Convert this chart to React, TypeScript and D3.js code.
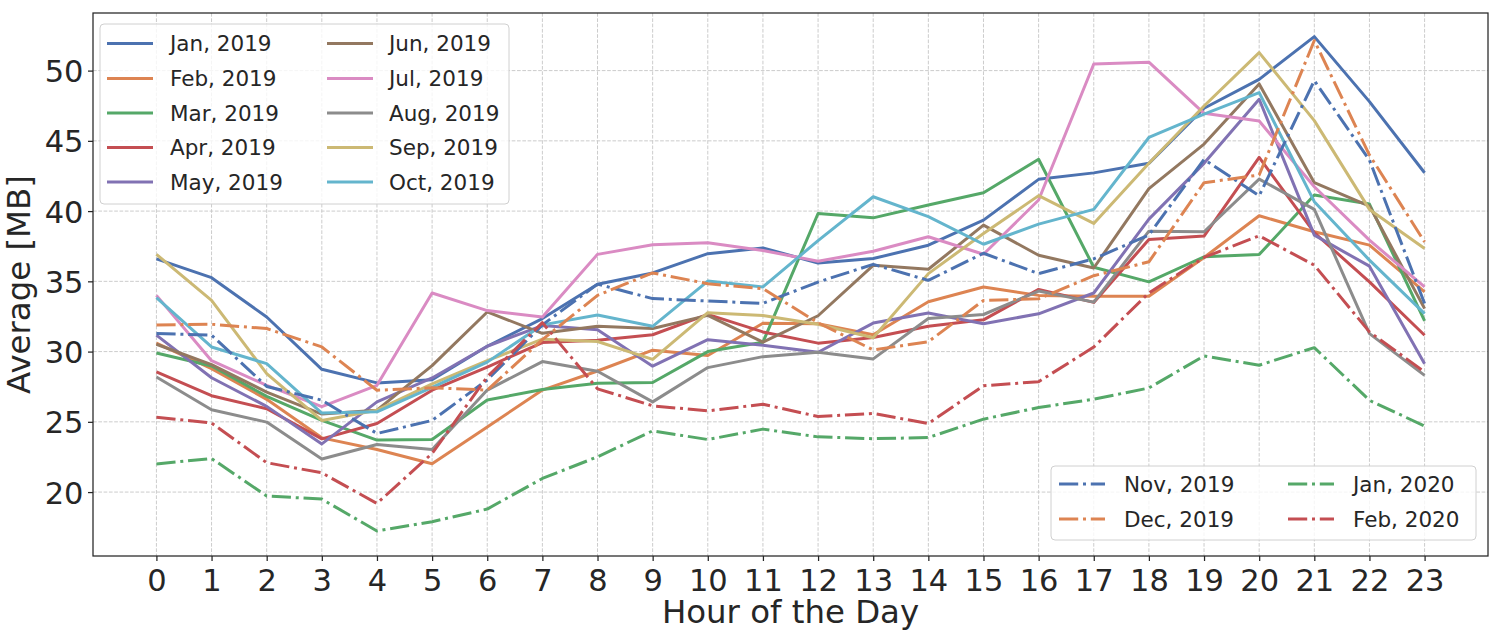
import * as d3 from 'd3';
import { useEffect, useRef } from 'react';

// hours on the x axis
const hours = [0, 1, 2, 3, 4, 5, 6, 7, 8, 9, 10, 11, 12, 13, 14, 15, 16, 17, 18, 19, 20, 21, 22, 23];
const yTicks = [20, 25, 30, 35, 40, 45, 50];

const labels = [
  'Jan, 2019', 'Feb, 2019', 'Mar, 2019', 'Apr, 2019', 'May, 2019', 'Jun, 2019', 'Jul, 2019',
  'Aug, 2019', 'Sep, 2019', 'Oct, 2019', 'Nov, 2019', 'Dec, 2019', 'Jan, 2020', 'Feb, 2020',
];

const jan2019 = [36.6, 35.26, 32.46, 28.74, 27.77, 28.0, 30.38, 32.35, 34.79, 35.6, 36.97, 37.37, 36.31, 36.62, 37.57, 39.36, 42.26, 42.72, 43.4, 47.32, 49.38, 52.42, 47.79, 42.73];
const feb2019 = [30.6, 28.79, 26.6, 23.86, 23.03, 22.02, 24.64, 27.26, 28.62, 30.1, 29.72, 32.02, 31.98, 31.2, 33.55, 34.6, 34.0, 33.94, 33.94, 36.7, 39.67, 38.53, 37.58, 34.25];
const mar2019 = [29.9, 28.98, 26.81, 25.1, 23.7, 23.74, 26.55, 27.3, 27.74, 27.8, 30.0, 30.67, 39.83, 39.52, 40.43, 41.31, 43.69, 36.0, 34.96, 36.75, 36.91, 41.14, 40.5, 32.19];
const apr2019 = [28.55, 26.86, 25.93, 23.79, 24.88, 27.25, 28.9, 30.64, 30.8, 31.2, 32.65, 31.4, 30.6, 31.0, 31.8, 32.26, 34.43, 33.5, 37.98, 38.22, 43.82, 38.46, 34.96, 31.16];
const may2019 = [31.17, 28.14, 26.1, 23.43, 26.42, 28.12, 30.38, 31.85, 31.55, 28.96, 30.85, 30.45, 29.95, 32.03, 32.75, 31.98, 32.69, 34.17, 39.43, 43.4, 47.96, 38.29, 36.08, 29.14];
const jun2019 = [30.52, 29.07, 27.12, 25.55, 25.83, 29.0, 32.82, 31.3, 31.8, 31.64, 32.58, 30.67, 32.55, 36.14, 35.86, 39.0, 36.86, 35.95, 41.6, 44.77, 49.05, 42.02, 40.36, 33.06];
const jul2019 = [34.0, 29.35, 27.6, 26.08, 27.6, 34.17, 32.92, 32.46, 36.92, 37.6, 37.75, 37.2, 36.43, 37.14, 38.17, 36.93, 40.79, 50.47, 50.6, 46.96, 46.41, 41.73, 37.93, 34.6];
const aug2019 = [28.19, 25.86, 24.98, 22.35, 23.39, 23.03, 27.26, 29.29, 28.6, 26.42, 28.86, 29.64, 29.95, 29.48, 32.35, 32.64, 34.31, 33.52, 38.57, 38.53, 42.28, 40.12, 31.28, 28.31];
const sep2019 = [36.92, 33.65, 28.43, 25.1, 25.83, 27.7, 29.35, 30.88, 30.72, 29.45, 32.77, 32.57, 31.95, 30.98, 35.55, 38.4, 41.1, 39.12, 43.4, 47.48, 51.28, 46.44, 40.12, 37.34];
const oct2019 = [33.84, 30.33, 29.14, 25.62, 25.71, 27.45, 29.25, 31.9, 32.6, 31.8, 35.02, 34.6, 37.9, 41.02, 39.6, 37.64, 39.07, 40.12, 45.24, 46.9, 48.43, 40.67, 36.51, 32.7];
const nov2019 = [31.29, 31.17, 27.52, 26.54, 24.17, 25.1, 27.98, 31.9, 34.8, 33.77, 33.6, 33.43, 34.95, 36.21, 35.07, 37.0, 35.55, 36.6, 38.3, 43.68, 41.09, 49.29, 43.63, 33.42];
const dec2019 = [31.9, 31.94, 31.64, 30.33, 27.25, 27.42, 27.26, 30.85, 34.0, 35.6, 34.83, 34.48, 32.05, 30.12, 30.7, 33.64, 33.76, 35.4, 36.39, 42.02, 42.57, 52.14, 43.99, 37.81];
const jan2020 = [22.0, 22.39, 19.72, 19.5, 17.23, 17.89, 18.79, 20.97, 22.51, 24.36, 23.74, 24.48, 23.93, 23.8, 23.88, 25.19, 26.02, 26.61, 27.41, 29.69, 29.03, 30.28, 26.53, 24.7];
const feb2020 = [25.33, 24.92, 22.09, 21.37, 19.19, 22.75, 28.2, 32.06, 27.35, 26.14, 25.78, 26.25, 25.38, 25.6, 24.88, 27.57, 27.86, 30.32, 34.18, 36.7, 38.24, 36.15, 31.4, 28.55];

const allSeries = [
  jan2019, feb2019, mar2019, apr2019, may2019, jun2019, jul2019,
  aug2019, sep2019, oct2019, nov2019, dec2019, jan2020, feb2020,
];

// seaborn "deep" palette
const palette = ['#4C72B0', '#DD8452', '#55A868', '#C44E52', '#8172B3', '#937860', '#DA8BC3', '#8C8C8C', '#CCB974', '#64B5CD'];

export default function App() {
  const svgRef = useRef<SVGSVGElement>(null);
  const width = 1500;
  const height = 639;

  useEffect(() => {
    document.body.style.margin = '0';
    const svg = d3.select(svgRef.current);
    svg.selectAll('*').remove();

    const margin = { top: 13, right: 12, bottom: 83, left: 93 };
    const textColor = '#262626';
    const font = 'DejaVu Sans';
    const lw = 3;
    const dashDot = [6.4 * lw, 1.6 * lw, 1 * lw, 1.6 * lw].join(',');

    const x = d3.scaleLinear().domain([-1.15, 24.15]).range([margin.left, width - margin.right]);
    const y = d3.scaleLinear().domain([15.45, 54.1]).range([height - margin.bottom, margin.top]);

    const colorOf = (i: number) => palette[i < 10 ? i : [0, 1, 2, 3][i - 10]];
    const isDashed = (i: number) => i >= 10;

    // background
    svg.append('rect').attr('width', width).attr('height', height).attr('fill', 'white');

    // grid
    const grid = svg.append('g').attr('stroke', '#cccccc').attr('stroke-width', 1).attr('stroke-dasharray', '3.7,1.6');
    hours.forEach((h) => {
      grid.append('line').attr('x1', x(h)).attr('x2', x(h)).attr('y1', margin.top).attr('y2', height - margin.bottom);
    });
    yTicks.forEach((t) => {
      grid.append('line').attr('x1', margin.left).attr('x2', width - margin.right).attr('y1', y(t)).attr('y2', y(t));
    });

    // lines
    const line = d3
      .line<number>()
      .x((_, i) => x(hours[i]))
      .y((d) => y(d));

    allSeries.forEach((values, i) => {
      svg
        .append('path')
        .datum(values)
        .attr('d', line)
        .attr('fill', 'none')
        .attr('stroke', colorOf(i))
        .attr('stroke-width', lw)
        .attr('stroke-linejoin', 'round')
        .attr('stroke-dasharray', isDashed(i) ? dashDot : null);
    });

    // axes
    const xAxis = d3.axisBottom(x).tickValues(hours).tickSize(5).tickPadding(8).tickFormat((d) => `${d}`);
    const yAxis = d3.axisLeft(y).tickValues(yTicks).tickSize(5).tickPadding(4.5).tickFormat((d) => `${d}`);

    const gx = svg.append('g').attr('transform', `translate(0,${height - margin.bottom})`).call(xAxis);
    const gy = svg.append('g').attr('transform', `translate(${margin.left},0)`).call(yAxis);
    [gx, gy].forEach((g) => {
      g.select('.domain').remove();
      g.selectAll('.tick line').attr('stroke', textColor).attr('stroke-width', 1.25);
      g.selectAll('.tick text').attr('fill', textColor).style('font-family', font).style('font-size', '30.5px');
    });
    gx.selectAll('.tick text').attr('dy', '0.71em');
    gy.selectAll('.tick text').attr('dy', '0.36em');

    // frame
    svg
      .append('rect')
      .attr('x', margin.left)
      .attr('y', margin.top)
      .attr('width', width - margin.left - margin.right)
      .attr('height', height - margin.top - margin.bottom)
      .attr('fill', 'none')
      .attr('stroke', textColor)
      .attr('stroke-width', 1.25);

    // axis labels
    svg
      .append('text')
      .attr('x', (margin.left + width - margin.right) / 2)
      .attr('y', 623)
      .attr('text-anchor', 'middle')
      .attr('fill', textColor)
      .style('font-family', font)
      .style('font-size', '32.4px')
      .text('Hour of the Day');

    svg
      .append('text')
      .attr('transform', `translate(30,${(margin.top + height - margin.bottom) / 2}) rotate(-90)`)
      .attr('text-anchor', 'middle')
      .attr('fill', textColor)
      .style('font-family', font)
      .style('font-size', '32.4px')
      .text('Average [MB]');

    // legends
    const drawLegend = (
      items: number[],
      box: { x: number; y: number; w: number; h: number },
      rowY: number[],
      cols: { hx: number; tx: number }[],
      perCol: number,
    ) => {
      const g = svg.append('g');
      g.append('rect')
        .attr('x', box.x)
        .attr('y', box.y)
        .attr('width', box.w)
        .attr('height', box.h)
        .attr('rx', 4)
        .attr('fill', 'white')
        .attr('fill-opacity', 0.8)
        .attr('stroke', '#d0d0d0')
        .attr('stroke-width', 1);
      items.forEach((idx, k) => {
        const col = cols[Math.floor(k / perCol)];
        const ry = rowY[k % perCol];
        g.append('line')
          .attr('x1', col.hx)
          .attr('x2', col.hx + 46)
          .attr('y1', ry)
          .attr('y2', ry)
          .attr('stroke', colorOf(idx))
          .attr('stroke-width', lw)
          .attr('stroke-dasharray', isDashed(idx) ? dashDot : null);
        g.append('text')
          .attr('x', col.tx)
          .attr('y', ry)
          .attr('dy', '0.36em')
          .attr('fill', textColor)
          .style('font-family', font)
          .style('font-size', '21.5px')
          .text(labels[idx]);
      });
    };

    drawLegend(
      [0, 1, 2, 3, 4, 5, 6, 7, 8, 9],
      { x: 100, y: 24, w: 409, h: 180 },
      [43.5, 78.5, 113, 147.5, 182],
      [
        { hx: 107, tx: 170 },
        { hx: 327, tx: 389 },
      ],
      5,
    );
    drawLegend(
      [10, 11, 12, 13],
      { x: 1051, y: 466, w: 425, h: 74 },
      [484, 519],
      [
        { hx: 1059, tx: 1124 },
        { hx: 1288, tx: 1353 },
      ],
      2,
    );
  }, []);

  return (
    <div style={{ position: 'absolute', left: 0, top: 0, width, height }}>
      <svg ref={svgRef} width={width} height={height} />
    </div>
  );
}
